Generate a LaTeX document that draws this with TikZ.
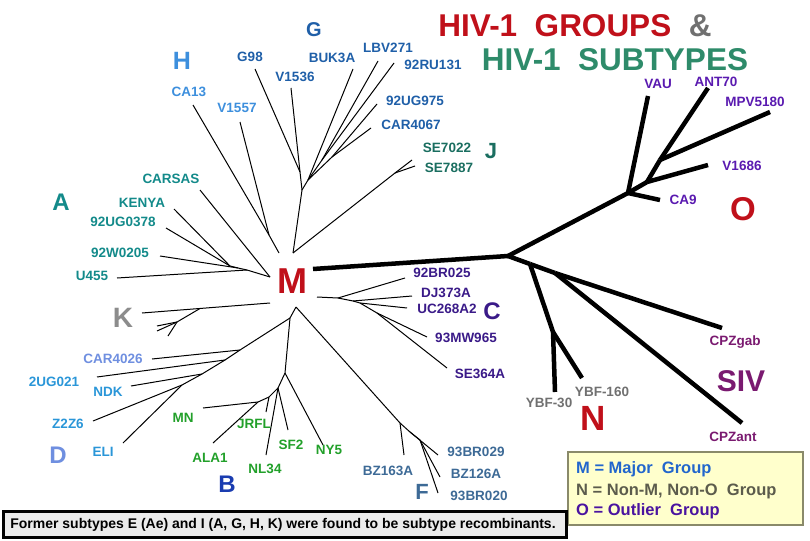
\documentclass[tikz,border=0pt]{standalone}
\usepackage{fontspec}
\setmainfont{Liberation Sans}
\usetikzlibrary{positioning}
\definecolor{gblue}{HTML}{1F5FA8}
\definecolor{hblue}{HTML}{3D8FDD}
\definecolor{ateal}{HTML}{138A8A}
\definecolor{jteal}{HTML}{1A6E60}
\definecolor{kgrey}{HTML}{8C8C8C}
\definecolor{dblue}{HTML}{2A96D8}
\definecolor{dlav}{HTML}{6F8FE0}
\definecolor{bgreen}{HTML}{22A02A}
\definecolor{bblue}{HTML}{1A3CB0}
\definecolor{fsteel}{HTML}{3D6A96}
\definecolor{cindigo}{HTML}{3A1A88}
\definecolor{opurple}{HTML}{5A1AB0}
\definecolor{grpred}{HTML}{C0101A}
\definecolor{ngrey}{HTML}{707070}
\definecolor{sivplum}{HTML}{7A1A70}
\definecolor{subgreen}{HTML}{2E8B6A}
\definecolor{legfill}{HTML}{FFFFCC}
\definecolor{legline}{HTML}{8A8A6A}
\definecolor{boxfill}{HTML}{EBEBEB}
\definecolor{mline}{HTML}{2266CC}
\definecolor{nline}{HTML}{5C5C4C}
\definecolor{oline}{HTML}{4A14A0}
\tikzset{
  lbl/.style={font=\bfseries\fontsize{13.5}{14}\selectfont, anchor=base, inner sep=0pt},
  big/.style={font=\bfseries\fontsize{#1}{#1}\selectfont, anchor=base, inner sep=0pt},
  twig/.style={line width=1pt},
  limb/.style={line width=4.5pt},
}

\begin{document}
\begin{tikzpicture}[x=1pt,y=-1pt]
  \useasboundingbox (0,0) rectangle (810,540);

  % branch points and tips
  \foreach \n/\x/\y in {mr/313/269, hub/508/256, o1/628/193, o2/647/182, o3/660/160,
        tCA9/660/200, tVAU/648/96, tV1686/708/165, tANT/708/88, tMPV/770/112,
        s1/530/264, s2/555/273, n1/553/332, tY30/555/392, tY160/582/378, tGab/722/328, tAnt/742/423,
        mt/293/253, ga/302/190, gb/300/172, gc/308/180, gd/332/157, ge/322/160,
        tG98/255/69, tV1536/291/88, tBUK/353/69, tLBV/378/61, tRU/394/63, tUG975/377/104, tCAR4067/371/128,
        jn/395/173, tSE22/412/160, tSE87/415/166,
        mh/279/253, hn/269/235, tCA13/193/105, tV1557/240/122,
        a0/270/277, a1/247/270, a2/238/268, a3/230/266,
        tCARSAS/200/190, tU455/117/278, tW0205/160/256, tKENYA/174/209, tUG0378/166/228,
        k0/270/303, tK/142/313, k1/200/308.5, k2/177/322, tKa/157/326, tKb/157/331, tKc/168/336,
        mb/296/307, bd/290/318, d1/240/350, d2/225/360, d3/202/374, d4/182/385,
        tCAR4026/152/359, t2UG/97/377, tNDK/131/386, tZ2Z6/93/421, tELI/123/443,
        b0/285/373, b1/278/388, b2/269/397, b3/258/402,
        tNY5/323/445, tSF2/288/430, tNL34/266/455, tJRFL/266/412, tMN/203/408, tALA1/213/443,
        f0/400/423, f1/410/432, f2/420/440, tBZ163/404/455, t029/438/455, tBZ126/440/477, t020/438/493,
        c0/317/297, c1/338/298, c2/353/301, c3/360/303, c4/377/313,
        tBR025/405/278, tDJ/412/296, tUC/407/308, tMW/427/337, tSE364/447/368}
    \coordinate (\n) at (\x,\y);

  % thick trunk: groups O, N and SIV
  \foreach \a/\b in {mr/hub, hub/o1, o1/tCA9, o1/tVAU, o1/o2, o2/tV1686, o2/o3, o3/tANT, o3/tMPV,
        hub/s1, s1/n1, n1/tY30, n1/tY160, s1/s2, s2/tGab, s2/tAnt}
    \draw[limb] (\a) -- (\b);

  % group M subtypes
  \foreach \a/\b in {mt/ga, ga/gb, gb/tG98, gb/tV1536, ga/gc, gc/tBUK, gc/ge, ge/tLBV, ge/tRU,
        gc/gd, gd/tUG975, gd/tCAR4067, mt/jn, jn/tSE22, jn/tSE87,
        mh/hn, hn/tCA13, hn/tV1557,
        a0/tCARSAS, a0/a1, a1/tU455, a1/a2, a2/tW0205, a2/a3, a3/tKENYA, a3/tUG0378,
        k0/tK, k1/k2, k2/tKa, k2/tKb, k2/tKc,
        mb/bd, bd/d1, d1/tCAR4026, d1/d2, d2/t2UG, d2/d3, d3/tNDK, d3/d4, d4/tZ2Z6, d4/tELI,
        bd/b0, b0/tNY5, b0/b1, b1/tSF2, b1/tNL34, b1/b2, b2/tJRFL, b2/b3, b3/tMN, b3/tALA1,
        mb/f0, f0/tBZ163, f0/f1, f1/t029, f1/f2, f2/tBZ126, f2/t020,
        c0/c1, c1/tBR025, c1/c2, c2/tDJ, c2/c3, c3/tUC, c3/c4, c4/tMW, c4/tSE364}
    \draw[twig] (\a) -- (\b);

  % strain names
  \foreach \n/\x/\y/\c/\t in {lG98/250/62/gblue/G98, lBUK/332/63/gblue/BUK3A, lLBV/388/53/gblue/LBV271,
        lRU/433/70/gblue/92RU131, lV1536/295/82/gblue/V1536, lUG975/415/106/gblue/92UG975,
        lCAR4067/411/130/gblue/CAR4067, lCA13/189/97/hblue/CA13, lV1557/237/113/hblue/V1557,
        lSE22/447/153/jteal/SE7022, lSE87/449/172/jteal/SE7887,
        lVAU/658/89/opurple/VAU, lANT/716/87/opurple/ANT70, lMPV/755/107/opurple/MPV5180,
        lV1686/742/171/opurple/V1686, lCA9/683/204/opurple/CA9,
        lCARSAS/171/183/ateal/CARSAS, lKENYA/142/207/ateal/KENYA, lUG0378/123/226/ateal/92UG0378,
        lW0205/120/257/ateal/92W0205, lU455/92/280/ateal/U455,
        lBR025/442/277/cindigo/92BR025, lDJ/446/297/cindigo/DJ373A, lUC/447/313/cindigo/UC268A2,
        lMW/466/342/cindigo/93MW965, lSE364/480/378/cindigo/SE364A,
        lCAR4026/113/363/dlav/CAR4026, l2UG/54/386/dblue/2UG021, lNDK/108/396/dblue/NDK,
        lZ2Z6/68/428/dblue/Z2Z6, lELI/103/456/dblue/ELI,
        lMN/183/422/bgreen/MN, lJRFL/254/428/bgreen/JRFL, lALA1/210/462/bgreen/ALA1,
        lNL34/265/473/bgreen/NL34, lSF2/291/449/bgreen/SF2, lNY5/329/454/bgreen/NY5,
        lBZ163/388/475/fsteel/BZ163A, l029/476/456/fsteel/93BR029, lBZ126/476/478/fsteel/BZ126A,
        l020/479/500/fsteel/93BR020,
        lY30/549/407/ngrey/YBF-30, lY160/602/396/ngrey/YBF-160,
        lGab/735/345/sivplum/CPZgab, lAnt/733/441/sivplum/CPZant}
    \node[lbl, text=\c] (\n) at (\x,\y) {\t};

  % group and subtype letters
  \foreach \n/\x/\y/\c/\s/\t in {gG/314/37/gblue/20/G, gH/182/70/hblue/25/H, gJ/491/159/jteal/22/J,
        gA/61/210/ateal/24/A, gK/123/327/kgrey/28/K, gC/492/319/cindigo/24/C, gD/58/463/dlav/24/D,
        gB/227/492/bblue/24/B, gF/422/499/fsteel/22/F,
        gM/292/293/grpred/36/M, gO/743/220/grpred/33/O, gN/593/430/grpred/35/N, gSIV/741/391/sivplum/30/SIV}
    \node[big=\s, text=\c] (\n) at (\x,\y) {\t};

  \node[big=31.5] (title1) at (575,37)
    {\textcolor{grpred}{HIV-1\ \ GROUPS}\ \ \textcolor{ngrey}{\&}};
  \node[big=31.5, text=subgreen] (title2) at (615,71) {HIV-1\ \ SUBTYPES};

  % legend
  \node[draw=legline, line width=1.5pt, fill=legfill, minimum width=235pt, minimum height=73pt,
        inner sep=0pt] (legend) at (685.5,488.5) {};
  \node[big=16.5, anchor=base west, text=mline] (legM) at (576,473) {M = Major\ \ Group};
  \node[big=16.5, anchor=base west, text=nline] (legN) at (576,495) {N = Non-M, Non-O\ \ Group};
  \node[big=16.5, anchor=base west, text=oline] (legO) at (576,515) {O = Outlier\ \ Group};

  % note
  \node[draw=black, line width=3pt, fill=boxfill, minimum width=563pt, minimum height=26pt,
        inner sep=0pt] (note) at (285,524) {};
  \node[big=14, anchor=base] (noteTxt) at (283,528)
    {Former subtypes E (Ae) and I (A, G, H, K) were found to be subtype recombinants.};
\end{tikzpicture}
\end{document}
